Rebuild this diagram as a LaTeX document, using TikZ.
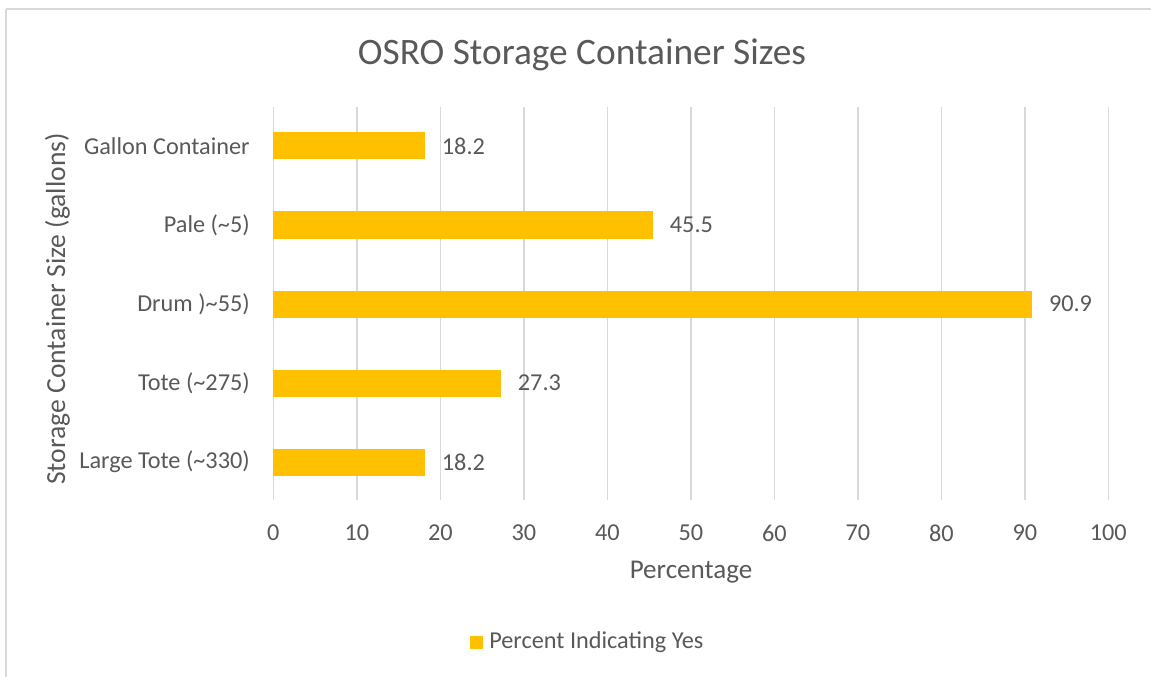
\documentclass[tikz,border=0pt]{standalone}
\usepackage{fontspec}
\setmainfont{Carlito}
\definecolor{bar}{HTML}{FFC000}
\definecolor{grid}{HTML}{D9D9D9}
\definecolor{txt}{HTML}{595959}
\tikzset{
  gridline/.style={draw=grid, line width=1.1pt},
  frameline/.style={draw=grid, line width=1.3pt},
  cat/.style={anchor=east, inner sep=0pt, text=txt, font=\fontsize{18.2}{21}\selectfont},
  val/.style={anchor=west, inner sep=0pt, text=txt, font=\fontsize{18.2}{21}\selectfont},
  tick/.style={anchor=center, inner sep=0pt, text=txt, font=\fontsize{18.2}{21}\selectfont},
  barbox/.style={fill=bar, draw=none},
}
\begin{document}
\begin{tikzpicture}[x=0.75pt, y=-0.75pt]
\useasboundingbox (0,0) rectangle (1151,677);
\fill[white] (0,0) rectangle (1151,677);
% frame (top and left edges visible)
\draw[frameline] (6,9) -- (1151,9);
\draw[frameline] (6,9) -- (6,677);
% title
\node[text=txt, inner sep=0pt, font=\fontsize{28}{31}\selectfont] (title) at (582,55) {OSRO Storage Container Sizes};
% gridlines and tick labels
\foreach \v [count=\i] in {0,10,...,100} {
  \draw[gridline] ({273.3+8.35*\v},107) -- ({273.3+8.35*\v},500);
  \node[tick] (t\i) at ({273.3+8.35*\v},533) {\v};
}
% bars
\foreach \lab/\val/\y/\n in {Gallon Container/18.2/146/a, Pale (\textasciitilde5)/45.5/225/b, Drum )\textasciitilde55)/90.9/304/c, Tote (\textasciitilde275)/27.3/383/d, Large Tote (\textasciitilde330)/18.2/462/e} {
  \fill[barbox] (273.3,\y-13.5) rectangle ({273.3+8.35*\val},\y+13.5);
  \coordinate (end\n) at ({273.3+8.35*\val},\y);
  \node[cat] (cat\n) at (250,\y) {\lab};
  \node[val] (val\n) at ([xshift=12.3pt]end\n) {\val};
}
% axis titles
\node[text=txt, inner sep=0pt, font=\fontsize{20.3}{24}\selectfont] (xtitle) at (691,572) {Percentage};
\node[text=txt, inner sep=0pt, rotate=90, font=\fontsize{20.7}{24}\selectfont] (ytitle) at (57.5,309) {Storage Container Size (gallons)};
% legend
\fill[bar] (469.5,635.5) rectangle (483,648.5);
\node[val] (leg) at (489,642) {Percent Indicating Yes};
\end{tikzpicture}
\end{document}
